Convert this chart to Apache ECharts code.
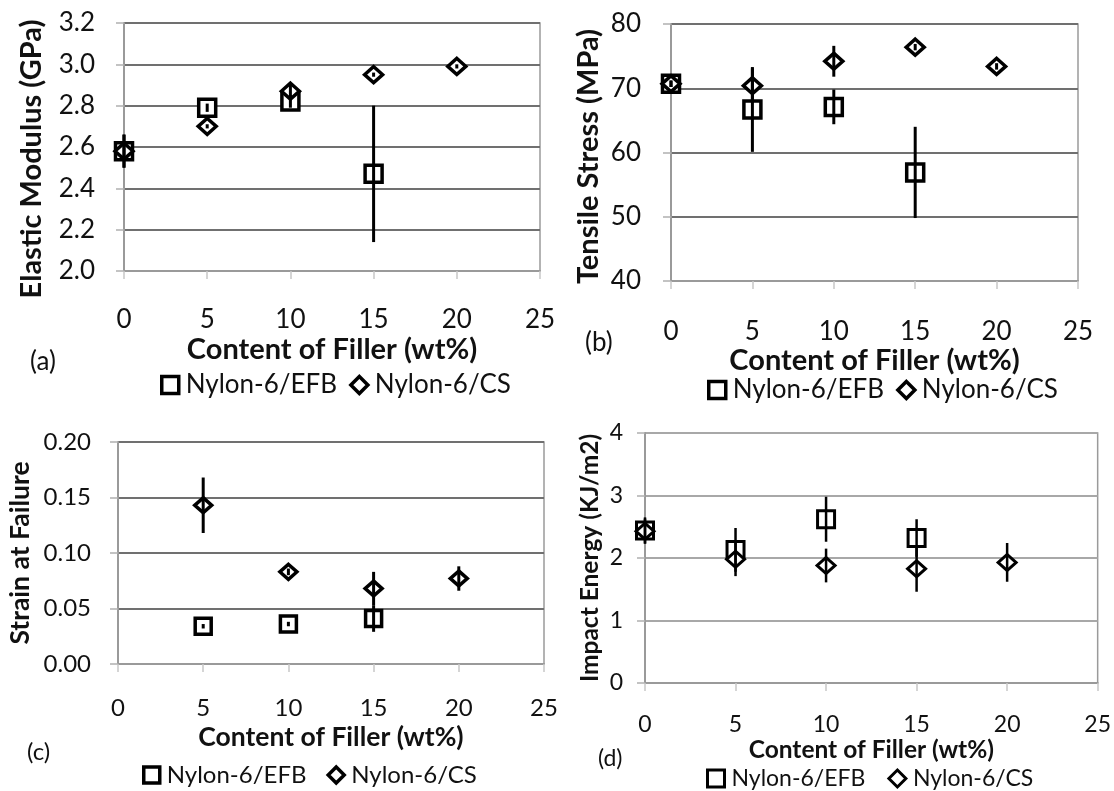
<!DOCTYPE html>
<html><head><meta charset="utf-8">
<script src="https://cdn.jsdelivr.net/npm/echarts@6/dist/echarts.min.js"></script>
<style>html,body{margin:0;padding:0;background:#fff}#c{width:1114px;height:791px}</style>
</head><body><div id="c"></div>
<script>
// ---------- data ----------
const seriesNames = ['Nylon-6/EFB', 'Nylon-6/CS'];
const panelTags = ['(a)', '(b)', '(c)', '(d)'];
const xTitle = 'Content of Filler (wt%)';
const yTitles = ['Elastic Modulus (GPa)', 'Tensile Stress (MPa)', 'Strain at Failure', 'Impact Energy (KJ/m2)'];

const fillerEFB = [0, 5, 10, 15];
const fillerCS = [0, 5, 10, 15, 20];
const fillerEFBStrain = [5, 10, 15];
const fillerCSStrain = [5, 10, 15, 20];

const modulusEFB = [2.58, 2.79, 2.82, 2.47];
const modulusEFBErr = [0.08, 0.02, 0.03, 0.33];
const modulusCS = [2.58, 2.70, 2.87, 2.95, 2.99];
const modulusCSErr = [0.08, 0.01, 0.03, 0.01, 0.01];

const stressEFB = [70.7, 66.7, 67.1, 56.9];
const stressEFBErr = [0.5, 6.6, 2.7, 7.1];
const stressCS = [70.7, 70.4, 74.2, 76.4, 73.4];
const stressCSErr = [0.5, 2.7, 2.4, 0.5, 0.5];

const strainEFB = [0.034, 0.036, 0.041];
const strainEFBErr = [0.002, 0.002, 0.012];
const strainCS = [0.143, 0.083, 0.068, 0.077];
const strainCSErr = [0.025, 0.003, 0.015, 0.011];

const impactEFB = [2.44, 2.13, 2.62, 2.32];
const impactEFBErr = [0.21, 0.35, 0.36, 0.30];
const impactCS = [2.43, 1.98, 1.88, 1.83, 1.93];
const impactCSErr = [0.20, 0.27, 0.27, 0.37, 0.31];

// ---------- helpers ----------
const pts = (xs, ys) => xs.map((x, i) => [x, ys[i]]);
const errs = (xs, ys, es) => xs.map((x, i) => [x, ys[i] - es[i], ys[i] + es[i]]);

const FONT = 'Lato';
const panels = [
  { grid: { left: 124, top: 23, width: 416, height: 248 }, y: { min: 2.0, max: 3.2, interval: 0.2, dec: 1 },
    efb: [fillerEFB, modulusEFB, modulusEFBErr], cs: [fillerCS, modulusCS, modulusCSErr],
    fs: 26, bfs: 29, labelMargin: 36, xNameGap: 64, yNameGap: 78, yNamePad: [0, 24, 0, 0], yLabelMargin: 29,
    legend: { left: 160, top: 372, gap: 12 }, tag: { left: 30, top: 349 }, grid2: '#707070', sym: 17, dsym: [18, 16], bw: 3.5, elw: 3 },
  { grid: { left: 671, top: 24, width: 407, height: 257 }, y: { min: 40, max: 80, interval: 10, dec: 0 },
    efb: [fillerEFB, stressEFB, stressEFBErr], cs: [fillerCS, stressCS, stressCSErr],
    fs: 26, bfs: 29, labelMargin: 38, xNameGap: 61, yNameGap: 68, yNamePad: [0, 8, 0, 0], yLabelMargin: 30,
    legend: { left: 707, top: 377, gap: 12 }, tag: { left: 585, top: 330 }, grid2: '#707070', sym: 17, dsym: [18, 16], bw: 3.5, elw: 3 },
  { grid: { left: 118, top: 442, width: 426, height: 222 }, y: { min: 0, max: 0.2, interval: 0.05, dec: 2 },
    efb: [fillerEFBStrain, strainEFB, strainEFBErr], cs: [fillerCSStrain, strainCS, strainCSErr],
    fs: 24, bfs: 26.5, labelMargin: 32, xNameGap: 60, yNameGap: 84, yNamePad: [0, 0, 0, 0], yLabelMargin: 27,
    legend: { left: 142, top: 763, gap: 20 }, tag: { left: 27, top: 740 }, grid2: '#707070', sym: 16, dsym: [17, 15], bw: 3.5, elw: 3 },
  { grid: { left: 645, top: 433, width: 455, height: 250 }, y: { min: 0, max: 4, interval: 1, dec: 0 },
    efb: [fillerEFB, impactEFB, impactEFBErr], cs: [fillerCS, impactCS, impactCSErr],
    fs: 23, bfs: 24.5, labelMargin: 30, xNameGap: 55, yNameGap: 42, yNamePad: [0, 0, 0, 0], yLabelMargin: 22,
    legend: { left: 706, top: 767, gap: 22 }, tag: { left: 598, top: 747 }, grid2: '#a8a8a8', sym: 17, dsym: [18, 16], bw: 3, elw: 2.5 }
];

const grids = [], xAxes = [], yAxes = [], series = [], legends = [], titles = [];

function errRender(lw) {
  return function (params, api) {
    const x = api.value(0);
    const p1 = api.coord([x, api.value(1)]);
    const p2 = api.coord([x, api.value(2)]);
    return { type: 'line', shape: { x1: p1[0], y1: p1[1], x2: p2[0], y2: p2[1] },
             style: { stroke: '#000', lineWidth: lw } };
  };
}

panels.forEach((p, i) => {
  grids.push(Object.assign({ show: true, borderColor: '#9a9a9a', borderWidth: 1.5, backgroundColor: '#fff' }, p.grid));
  xAxes.push({
    gridIndex: i, type: 'value', min: 0, max: 25, interval: 5,
    name: xTitle, nameLocation: 'middle', nameGap: p.xNameGap,
    nameTextStyle: { fontFamily: FONT, fontWeight: 'bold', fontSize: p.bfs, color: '#111' },
    axisLine: { show: true, onZero: false, lineStyle: { color: '#9a9a9a', width: 2 } },
    axisTick: { show: true, length: 8, lineStyle: { color: '#c8c8c8', width: 1.5 } },
    axisLabel: { margin: p.labelMargin, fontFamily: FONT, fontSize: p.fs, color: '#111' },
    splitLine: { show: false }
  });
  yAxes.push({
    gridIndex: i, type: 'value', min: p.y.min, max: p.y.max, interval: p.y.interval,
    name: yTitles[i], nameLocation: 'middle', nameGap: p.yNameGap,
    nameTextStyle: { fontFamily: FONT, fontWeight: 'bold', fontSize: p.bfs, color: '#111', padding: p.yNamePad },
    axisLine: { show: true, lineStyle: { color: '#9a9a9a', width: 2 } },
    axisTick: { show: true, length: 8, lineStyle: { color: '#b0b0b0', width: 1.5 } },
    axisLabel: { margin: p.yLabelMargin, fontFamily: FONT, fontSize: p.fs, color: '#111',
                 formatter: v => v.toFixed(p.y.dec) },
    splitLine: { show: true, lineStyle: { color: p.grid2, width: 2 } }
  });
  series.push({
    name: seriesNames[0], type: 'scatter', xAxisIndex: i, yAxisIndex: i, z: 2,
    symbol: 'rect', symbolSize: p.sym,
    itemStyle: { color: '#fff', borderColor: '#000', borderWidth: p.bw, opacity: 1 },
    data: pts(p.efb[0], p.efb[1])
  });
  series.push({
    name: seriesNames[1], type: 'scatter', xAxisIndex: i, yAxisIndex: i, z: 3,
    symbol: 'diamond', symbolSize: p.dsym,
    itemStyle: { color: '#fff', borderColor: '#000', borderWidth: p.bw, opacity: 1 },
    data: pts(p.cs[0], p.cs[1])
  });
  series.push({
    name: seriesNames[0], type: 'custom', xAxisIndex: i, yAxisIndex: i, z: 4, silent: true,
    renderItem: errRender(p.elw), encode: { x: 0, y: [1, 2] },
    data: errs(p.efb[0], p.efb[1], p.efb[2])
  });
  series.push({
    name: seriesNames[1], type: 'custom', xAxisIndex: i, yAxisIndex: i, z: 4, silent: true,
    renderItem: errRender(p.elw), encode: { x: 0, y: [1, 2] },
    data: errs(p.cs[0], p.cs[1], p.cs[2])
  });
  legends.push({
    left: p.legend.left, top: p.legend.top, itemGap: p.legend.gap, itemWidth: p.sym, itemHeight: p.sym,
    padding: 0, selectedMode: false,
    textStyle: { fontFamily: FONT, fontSize: p.fs, color: '#111', padding: [0, 0, 0, 2] },
    data: [
      { name: seriesNames[0], icon: 'rect', itemStyle: { color: '#fff', borderColor: '#000', borderWidth: p.bw } },
      { name: seriesNames[1], icon: 'diamond', itemStyle: { color: '#fff', borderColor: '#000', borderWidth: p.bw } }
    ]
  });
  titles.push({ text: panelTags[i], left: p.tag.left, top: p.tag.top, padding: 0,
    textStyle: { fontFamily: FONT, fontWeight: 'normal', fontSize: p.fs, color: '#111' } });
});

const chart = echarts.init(document.getElementById('c'), null, { renderer: 'canvas' });
chart.setOption({
  animation: false, backgroundColor: '#fff',
  title: titles, grid: grids, xAxis: xAxes, yAxis: yAxes, legend: legends, series: series
});
</script></body></html>
